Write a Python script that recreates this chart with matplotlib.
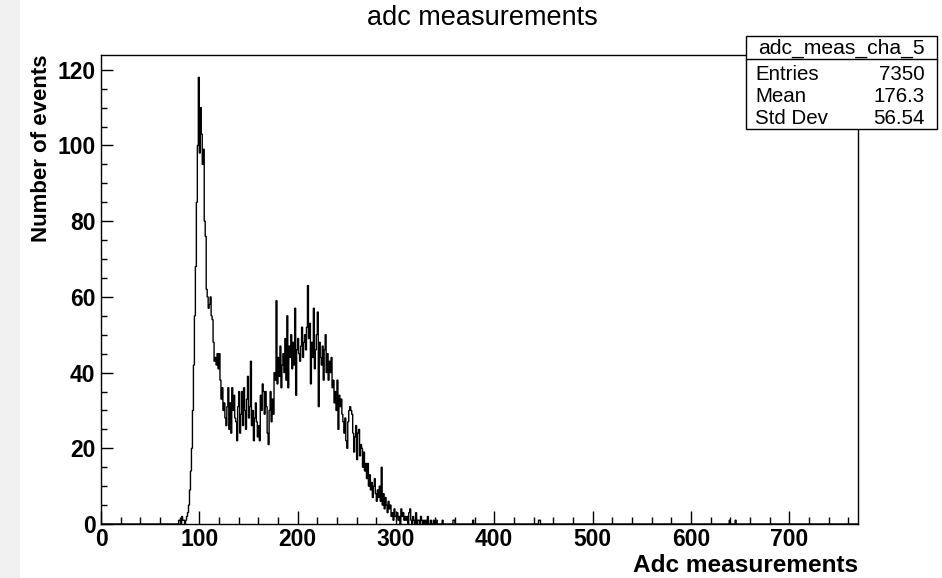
import numpy as np
import matplotlib
matplotlib.use("Agg")
import matplotlib.pyplot as plt
from matplotlib.patches import Rectangle
from matplotlib.lines import Line2D
from matplotlib.ticker import MultipleLocator

# Histogram range (one ADC count per bin)
x_min, x_max = 0, 770

# Bin contents starting at ADC = main_start
main_start = 75
main_counts = [
    0, 0, 0, 0, 1,                                   # 75-79
    1, 0, 2, 1, 1, 0, 1, 2, 3, 5,                    # 80-89
    9, 14, 20, 30, 42, 55, 68, 85, 100, 118,         # 90-99
    98, 110, 103, 95, 99, 80, 76, 62, 60, 57,        # 100-109
    58, 60, 55, 54, 48, 43, 44, 42, 45, 41,          # 110-119
    45, 38, 33, 36, 30, 32, 28, 26, 31, 36,          # 120-129
    25, 32, 24, 36, 30, 34, 28, 27, 22, 31,          # 130-139
    35, 24, 29, 35, 26, 36, 30, 25, 33, 39,          # 140-149
    28, 31, 43, 26, 30, 22, 28, 32, 27, 23,          # 150-159
    26, 22, 34, 30, 37, 35, 29, 35, 31, 24,          # 160-169
    21, 30, 35, 27, 33, 29, 40, 38, 59, 37,          # 170-179
    44, 39, 47, 36, 42, 45, 40, 49, 38, 55,          # 180-189
    36, 47, 44, 50, 41, 48, 42, 57, 34, 46,          # 190-199
    49, 45, 43, 47, 52, 44, 48, 50, 46, 52,          # 200-209
    63, 49, 53, 37, 48, 44, 57, 41, 46, 50,          # 210-219
    56, 31, 48, 44, 42, 47, 38, 46, 50, 40,          # 220-229
    45, 38, 43, 40, 44, 36, 38, 32, 35, 30,          # 230-239
    38, 25, 34, 31, 33, 29, 27, 24, 28, 22,          # 240-249
    20, 27, 30, 31, 30, 29, 24, 19, 23, 26,          # 250-259
    17, 24, 25, 18, 21, 20, 15, 19, 14, 16,          # 260-269
    12, 16, 10, 13, 9, 11, 7, 10, 12, 8,             # 270-279
    6, 9, 7, 10, 6, 15, 5, 8, 4, 7,                  # 280-289
    5, 3, 6, 4, 5, 2, 3, 1, 4, 2,                    # 290-299
    2, 3, 1, 2, 0, 4, 2, 3, 1, 2,                    # 300-309
    1, 2, 0, 3, 4, 1, 0, 2, 1, 0,                    # 310-319
    3, 0, 1, 1, 0, 2, 1, 0, 1, 0,                    # 320-329
    1, 0, 2, 0, 0, 1, 0, 0, 1, 0,                    # 330-339
    0, 1, 0, 0, 0, 0, 0, 1, 0, 0,                    # 340-349
    0, 0, 0, 0, 0, 0, 0, 0, 1, 1,                    # 350-359
]

# Sparse entries far in the tail
isolated_adc = [378, 445, 446, 639, 645]
isolated_counts = [1, 1, 1, 1, 1]

# Statistics box contents
stat_name = "adc_meas_cha_5"
stat_labels = ["Entries", "Mean", "Std Dev"]
stat_values = ["7350", "176.3", "56.54"]

title = "adc measurements"
x_title = "Adc measurements"
y_title = "Number of events"

W, H = 942, 578
fig = plt.figure(figsize=(W / 100, H / 100), dpi=100)
fig.patch.set_facecolor("white")


def fx(px):
    return px / W


def fy(py):
    return 1 - py / H


FONT = "Liberation Sans"

# light gray strip along the left edge
fig.add_artist(Rectangle((0, 0), fx(20), 1, transform=fig.transFigure,
                         facecolor="#f0f0f0", edgecolor="none", zorder=0))

ax = fig.add_axes([fx(101), fy(524), fx(858) - fx(101), fy(55) - fy(524)])

counts = np.zeros(x_max - x_min)
counts[main_start - x_min:main_start - x_min + len(main_counts)] = main_counts
for a, c in zip(isolated_adc, isolated_counts):
    counts[a - x_min] += c
edges = np.arange(x_min, x_max + 1)

ax.stairs(counts, edges, color="black", linewidth=1.0)
ax.set_xlim(x_min, x_max)
ax.set_ylim(0, 1.05 * counts.max())

for sp in ax.spines.values():
    sp.set_linewidth(1.0)
    sp.set_color("black")

ax.xaxis.set_major_locator(MultipleLocator(100))
ax.xaxis.set_minor_locator(MultipleLocator(20))
ax.yaxis.set_major_locator(MultipleLocator(20))
ax.yaxis.set_minor_locator(MultipleLocator(5))
ax.tick_params(which="both", direction="in", top=False, right=False,
               color="black", width=1.0)
ax.tick_params(axis="x", which="major", length=9.5, pad=3)
ax.tick_params(axis="x", which="minor", length=5)
ax.tick_params(axis="y", which="major", length=8.5, pad=4)
ax.tick_params(axis="y", which="minor", length=4.5)
for lab in ax.get_xticklabels() + ax.get_yticklabels():
    lab.set_fontfamily(FONT)
    lab.set_fontweight("bold")
    lab.set_fontsize(16.5)

# titles
fig.text(fx(482), fy(18), title, ha="center", va="center",
         fontsize=19.5, family=FONT)
fig.text(fx(858), fy(565), x_title, ha="right", va="center",
         fontsize=17.6, family=FONT, fontweight="bold")
fig.text(fx(42), fy(55), y_title, ha="center", va="top", rotation=90,
         fontsize=16, family=FONT, fontweight="bold")

# statistics box
bx0, bx1, by0, by1, bsep = 746, 937, 36, 129, 59
fig.add_artist(Rectangle((fx(bx0), fy(by1)), fx(bx1) - fx(bx0), fy(by0) - fy(by1),
                         transform=fig.transFigure, facecolor="white",
                         edgecolor="black", linewidth=1.0, zorder=5))
fig.add_artist(Line2D([fx(bx0), fx(bx1)], [fy(bsep), fy(bsep)],
                      transform=fig.transFigure, color="black", linewidth=1.0, zorder=6))
fig.text(fx((bx0 + bx1) / 2), fy(48), stat_name, ha="center", va="center",
         fontsize=15.2, family=FONT, zorder=7)
row_y = [74, 96, 119]
for lbl, val, ry in zip(stat_labels, stat_values, row_y):
    fig.text(fx(755), fy(ry), lbl, ha="left", va="center",
             fontsize=14.8, family=FONT, zorder=7)
    fig.text(fx(925), fy(ry), val, ha="right", va="center",
             fontsize=14.8, family=FONT, zorder=7)

fig.savefig("out.png", dpi=100, facecolor=fig.get_facecolor())
